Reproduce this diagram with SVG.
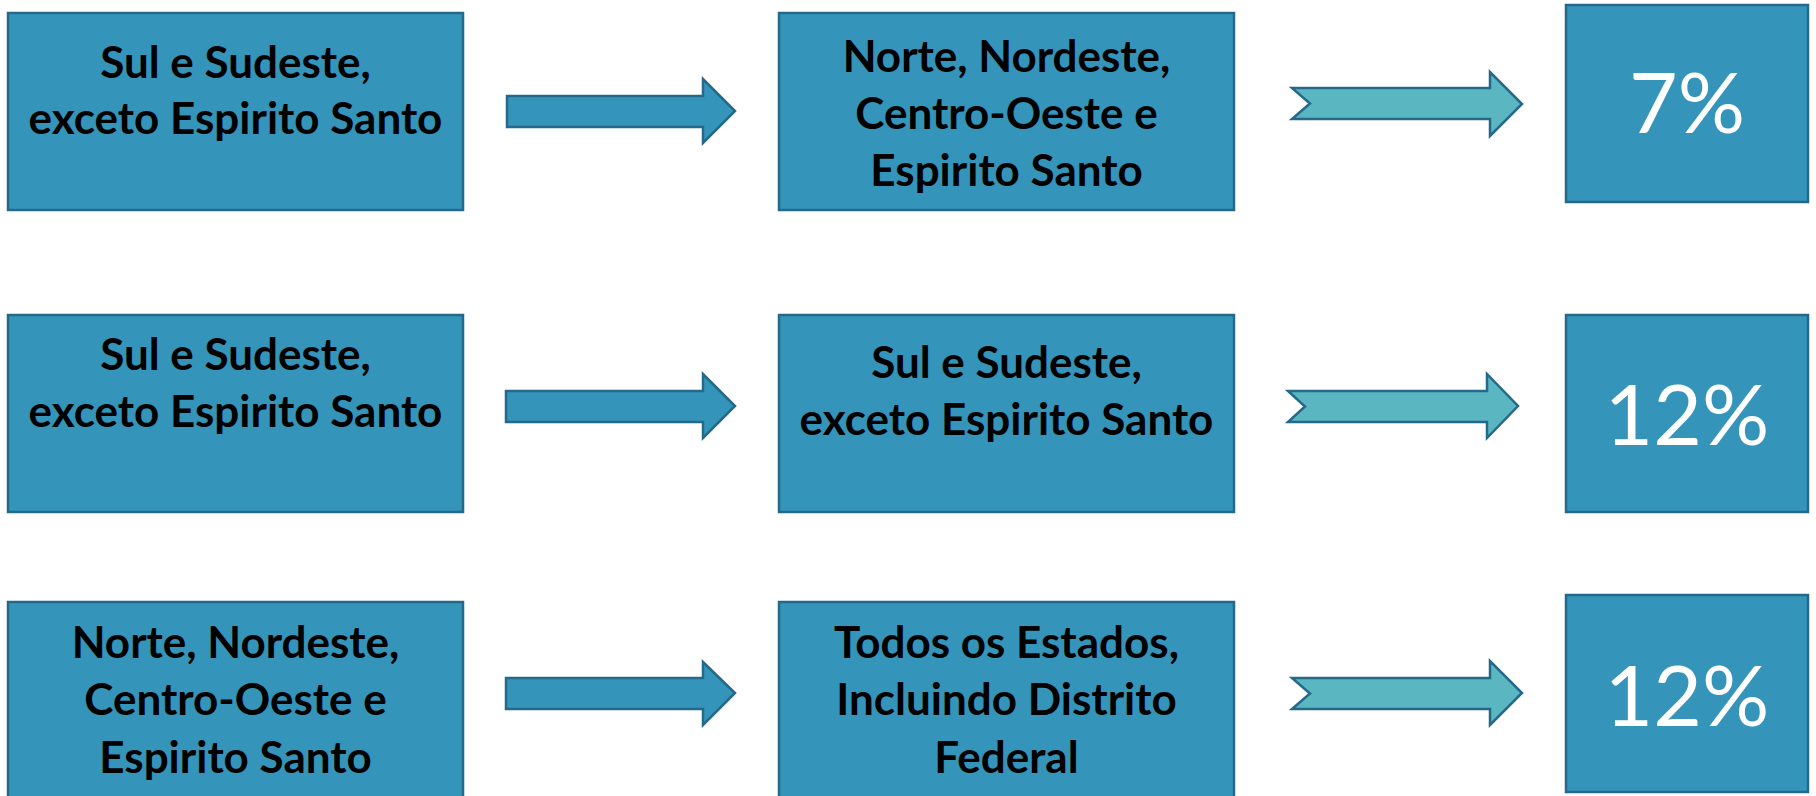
<svg xmlns="http://www.w3.org/2000/svg" width="1816" height="796" viewBox="0 0 1816 796">
<style>
.box{fill:#3494BA;stroke:#24698A;stroke-width:2.5}
.arr{fill:#3494BA;stroke:#24698A;stroke-width:2.5;stroke-linejoin:miter}
.tarr{fill:#5AB6C0;stroke:#24698A;stroke-width:2.5;stroke-linejoin:miter}
.t{font-family:Lato,"Liberation Sans",sans-serif;font-weight:bold;font-size:44px;fill:#000;text-anchor:middle}
.p{font-family:Lato,"Liberation Sans",sans-serif;font-size:84px;fill:#fff;text-anchor:middle}
</style>
<rect width="1816" height="796" fill="#fff"/>
<g id="r1a"><rect class="box" x="8" y="13" width="455" height="197"/>
<text class="t" x="235.5" y="78">Sul e Sudeste,</text><text class="t" x="235.5" y="134">exceto Espirito Santo</text></g>
<g id="r1b"><rect class="box" x="779" y="13" width="455" height="197"/>
<text class="t" x="1006.5" y="72">Norte, Nordeste,</text><text class="t" x="1006.5" y="129">Centro-Oeste e</text><text class="t" x="1006.5" y="186">Espirito Santo</text></g>
<g id="r1c"><rect class="box" x="1566" y="5" width="242" height="197"/>
<text class="p" x="1687" y="133">7%</text></g>
<g id="r2a"><rect class="box" x="8" y="315" width="455" height="197"/>
<text class="t" x="235.5" y="370">Sul e Sudeste,</text><text class="t" x="235.5" y="427">exceto Espirito Santo</text></g>
<g id="r2b"><rect class="box" x="779" y="315" width="455" height="197"/>
<text class="t" x="1006.5" y="378">Sul e Sudeste,</text><text class="t" x="1006.5" y="435">exceto Espirito Santo</text></g>
<g id="r2c"><rect class="box" x="1566" y="315" width="242" height="197"/>
<text class="p" x="1687" y="445">12%</text></g>
<g id="r3a"><rect class="box" x="8" y="602" width="455" height="197"/>
<text class="t" x="235.5" y="658">Norte, Nordeste,</text><text class="t" x="235.5" y="715">Centro-Oeste e</text><text class="t" x="235.5" y="773">Espirito Santo</text></g>
<g id="r3b"><rect class="box" x="779" y="602" width="455" height="197"/>
<text class="t" x="1006.5" y="658">Todos os Estados,</text><text class="t" x="1006.5" y="715">Incluindo Distrito</text><text class="t" x="1006.5" y="773">Federal</text></g>
<g id="r3c"><rect class="box" x="1566" y="595" width="242" height="197"/>
<text class="p" x="1687" y="726">12%</text></g>
<g id="connectors">
<polygon class="arr" points="507,96 703,96 703,79 735,111 703,143 703,127 507,127"/>
<polygon class="arr" points="506,391 703,391 703,374 735,406 703,438 703,422 506,422"/>
<polygon class="arr" points="506,678 703,678 703,662 735,693 703,725 703,709 506,709"/>
<polygon class="tarr" points="1292,88 1490,88 1490,72 1522,104 1490,136 1490,119 1292,119 1310,103.5"/>
<polygon class="tarr" points="1288,391 1487,391 1487,374 1518,406 1487,438 1487,422 1288,422 1305,406.5"/>
<polygon class="tarr" points="1292,678 1490,678 1490,661 1522,693 1490,725 1490,709 1292,709 1310,693.5"/>
</g>
</svg>
